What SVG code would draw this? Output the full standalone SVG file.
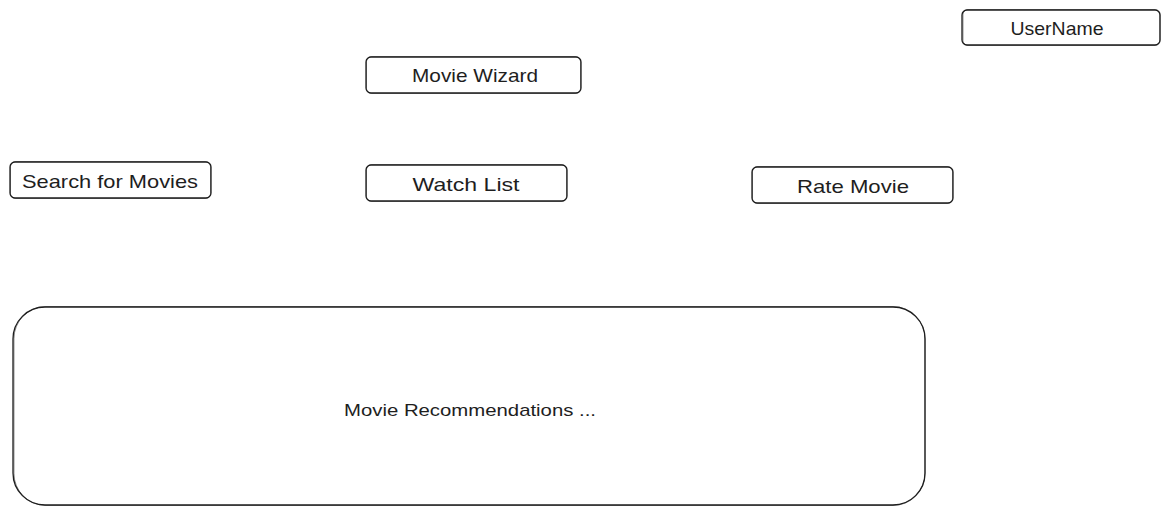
<svg xmlns="http://www.w3.org/2000/svg" width="1170" height="514" viewBox="0 0 1170 514">
<style>
.box{fill:#ffffff;stroke:#1e1e1e;stroke-width:1.3;}
.box2{fill:none;stroke:#1e1e1e;stroke-width:0.8;opacity:0.6;}
.lbl{font-family:"Liberation Sans","DejaVu Sans",sans-serif;font-size:19px;fill:#1e1e1e;text-anchor:middle;dominant-baseline:central;}
.big{font-size:17px;}
</style>
<rect width="1170" height="514" fill="#ffffff"/>
<g id="connectors"></g>
<g id="username">
<rect class="box" x="962" y="10" width="198" height="35" rx="5"/>
<rect class="box2" x="963" y="9.5" width="197" height="36" rx="5"/>
<text class="lbl" x="1057" y="28" textLength="93" lengthAdjust="spacingAndGlyphs">UserName</text>
</g>
<g id="movie-wizard">
<rect class="box" x="366" y="57" width="215" height="36" rx="5"/>
<rect class="box2" x="366.5" y="56.5" width="214" height="37" rx="5"/>
<text class="lbl" x="475" y="75" textLength="126" lengthAdjust="spacingAndGlyphs">Movie Wizard</text>
</g>
<g id="search">
<rect class="box" x="10" y="162" width="201" height="36" rx="5"/>
<rect class="box2" x="10.5" y="161.5" width="200" height="37" rx="5"/>
<text class="lbl" x="110" y="181" textLength="176" lengthAdjust="spacingAndGlyphs">Search for Movies</text>
</g>
<g id="watch-list">
<rect class="box" x="366" y="165" width="201" height="36" rx="5"/>
<rect class="box2" x="366.5" y="164.5" width="200" height="37" rx="5"/>
<text class="lbl" x="466" y="184" textLength="107" lengthAdjust="spacingAndGlyphs">Watch List</text>
</g>
<g id="rate-movie">
<rect class="box" x="752" y="167" width="201" height="36" rx="5"/>
<rect class="box2" x="752.5" y="166.5" width="200" height="37" rx="5"/>
<text class="lbl" x="853" y="186" textLength="112" lengthAdjust="spacingAndGlyphs">Rate Movie</text>
</g>
<g id="recommendations">
<rect class="box" x="13" y="307" width="912" height="198" rx="32"/>
<rect class="box2" x="14" y="306.5" width="911" height="199" rx="32"/>
<text class="lbl big" x="470" y="410" textLength="252" lengthAdjust="spacingAndGlyphs">Movie Recommendations ...</text>
</g>
</svg>
